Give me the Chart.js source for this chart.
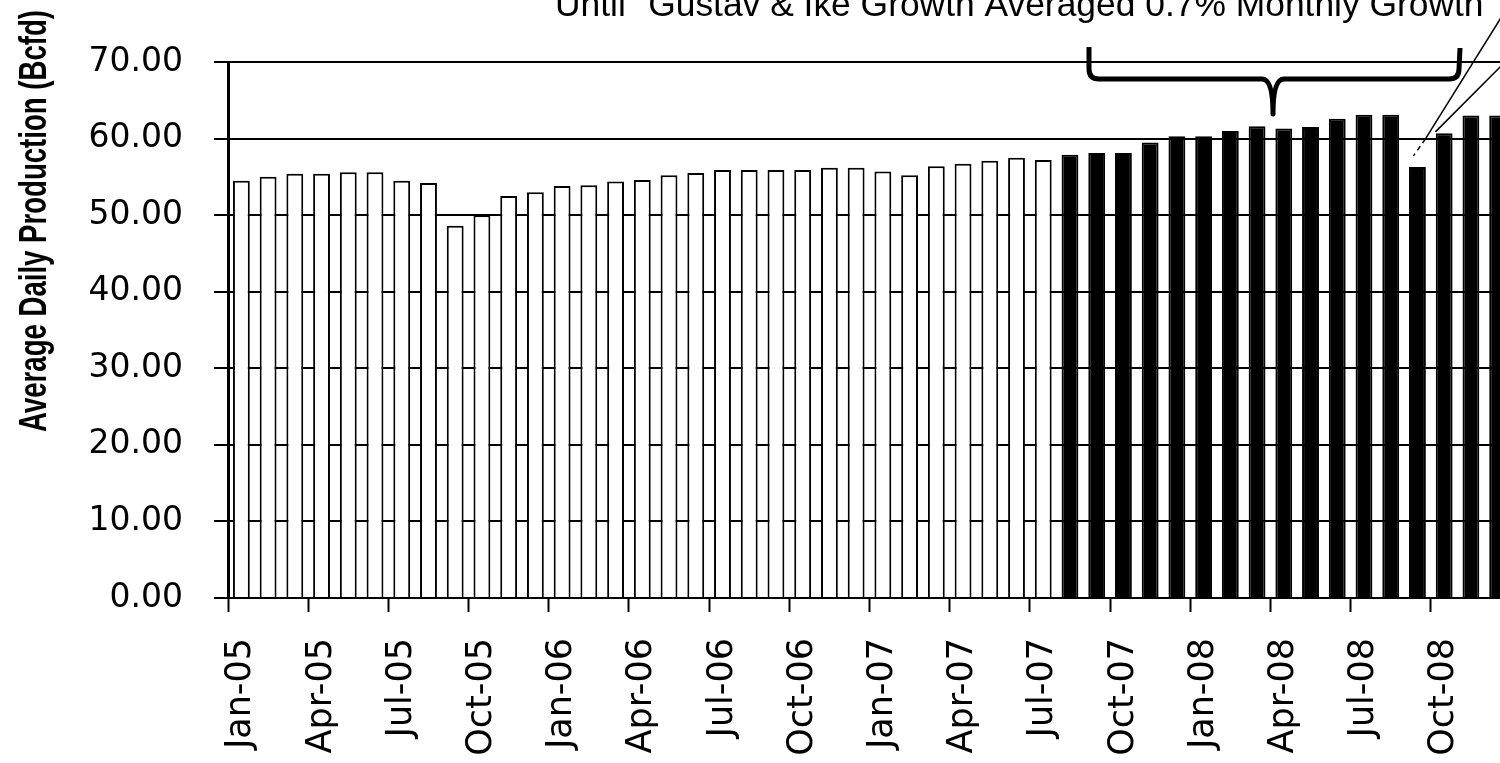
<!DOCTYPE html>
<html>
<head>
<meta charset="utf-8">
<title>Average Daily Production</title>
<script src="https://cdn.jsdelivr.net/npm/chart.js@4.4.1/dist/chart.umd.min.js"></script>
<style>
  html, body { margin: 0; padding: 0; background: #fff; overflow: hidden; }
  #wrap { width: 1530px; height: 763px; }
</style>
</head>
<body>
<div id="wrap"><canvas id="chart" width="1530" height="763"></canvas></div>
<script>
// Monthly categories, Jan 2005 – Dec 2008
const months = [
  'Jan-05','Feb-05','Mar-05','Apr-05','May-05','Jun-05','Jul-05','Aug-05','Sep-05','Oct-05','Nov-05','Dec-05',
  'Jan-06','Feb-06','Mar-06','Apr-06','May-06','Jun-06','Jul-06','Aug-06','Sep-06','Oct-06','Nov-06','Dec-06',
  'Jan-07','Feb-07','Mar-07','Apr-07','May-07','Jun-07','Jul-07','Aug-07','Sep-07','Oct-07','Nov-07','Dec-07',
  'Jan-08','Feb-08','Mar-08','Apr-08','May-08','Jun-08','Jul-08','Aug-08','Sep-08','Oct-08','Nov-08','Dec-08'
];

// Average daily production, Bcfd
const production = [
  54.5, 55.0, 55.4, 55.4, 55.6, 55.6, 54.5, 54.2, 48.6, 50.0, 52.5, 53.0,
  53.8, 53.9, 54.4, 54.6, 55.2, 55.5, 55.9, 55.9, 55.9, 55.9, 56.2, 56.2,
  55.7, 55.2, 56.4, 56.7, 57.1, 57.5, 57.2, 57.9, 58.1, 58.1, 59.5, 60.3,
  60.3, 61.0, 61.6, 61.3, 61.5, 62.6, 63.1, 63.1, 56.3, 60.7, 63.0, 63.0
];

// Months from this one onward are shown as solid bars
const solidFrom = 'Aug-07';
// Month hit by Gustav & Ike
const stormMonth = 'Sep-08';

const yAxisTitle = 'Average Daily Production (Bcfd)';
const noteText = 'Until "Gustav & Ike Growth Averaged 0.7% Monthly Growth';

const solidIndex = months.indexOf(solidFrom);
const stormIndex = months.indexOf(stormMonth);

// Axis title, note, brace and callout lines
const decor = {
  id: 'decor',
  afterDraw(chart) {
    const ctx = chart.ctx;
    const xs = chart.scales.x, ys = chart.scales.y;

    // rotated y-axis title
    ctx.save();
    ctx.fillStyle = '#000';
    ctx.font = 'bold 39px "Liberation Sans", Arial, sans-serif';
    const w = ctx.measureText(yAxisTitle).width;
    ctx.translate(35, 221);
    ctx.rotate(-Math.PI / 2);
    ctx.scale(422 / w, 1);
    ctx.textAlign = 'center';
    ctx.textBaseline = 'middle';
    ctx.fillText(yAxisTitle, 0, 0);
    ctx.restore();

    // note along the top edge
    ctx.save();
    ctx.fillStyle = '#000';
    ctx.font = '35.4px "Liberation Sans", Arial, sans-serif';
    ctx.textBaseline = 'alphabetic';
    ctx.fillText(noteText, 555, 16);
    ctx.restore();

    // brace over the growth period
    ctx.save();
    ctx.strokeStyle = '#000';
    ctx.lineWidth = 5;
    ctx.lineJoin = 'round';
    ctx.lineCap = 'butt';
    ctx.beginPath();
    ctx.moveTo(1089, 47);
    ctx.lineTo(1089, 69);
    ctx.quadraticCurveTo(1089, 79, 1099, 79);
    ctx.lineTo(1262, 79);
    ctx.quadraticCurveTo(1273, 79, 1273, 114);
    ctx.quadraticCurveTo(1273, 79, 1284, 79);
    ctx.lineTo(1449, 79);
    ctx.quadraticCurveTo(1459, 79, 1459, 69);
    ctx.lineTo(1460, 48);
    ctx.stroke();
    ctx.restore();

    // callout lines toward the storm month bar
    const tipX = xs.getPixelForValue(stormIndex) - 4;
    const tipY = ys.getPixelForValue(production[stormIndex]) - 11;
    ctx.save();
    ctx.strokeStyle = '#000';
    ctx.lineWidth = 1.5;
    ctx.beginPath();
    ctx.moveTo(1512, 0);
    ctx.lineTo(tipX + 12, tipY - 17);
    ctx.stroke();
    ctx.setLineDash([5, 4]);
    ctx.beginPath();
    ctx.moveTo(tipX + 12, tipY - 17);
    ctx.lineTo(tipX, tipY);
    ctx.stroke();
    ctx.setLineDash([]);
    ctx.beginPath();
    ctx.moveTo(1530, 37);
    ctx.lineTo(tipX + 22, tipY - 24);
    ctx.stroke();
    ctx.restore();
  }
};

new Chart(document.getElementById('chart'), {
  type: 'bar',
  data: {
    labels: months,
    datasets: [{
      data: production,
      backgroundColor: months.map((m, i) => (i >= solidIndex ? '#000' : '#fff')),
      borderColor: '#000',
      borderWidth: 2,
      barPercentage: 0.63,
      categoryPercentage: 1
    }]
  },
  options: {
    responsive: false,
    animation: false,
    devicePixelRatio: 1,
    layout: { padding: { top: 62, right: 19, left: 0, bottom: 0 } },
    plugins: { legend: { display: false }, tooltip: { enabled: false } },
    scales: {
      x: {
        offset: true,
        grid: {
          offset: true,
          drawOnChartArea: false,
          drawTicks: true,
          tickLength: 14,
          tickWidth: 2,
          tickColor: c => (c.index % 3 === 0 ? '#000' : 'rgba(0,0,0,0)')
        },
        border: { display: true, color: '#000', width: 2 },
        ticks: {
          autoSkip: false,
          minRotation: 90,
          maxRotation: 90,
          padding: 26,
          color: '#000',
          font: { family: '"DejaVu Sans", sans-serif', size: 35 },
          callback: (v, i) => (i % 3 === 0 ? months[i] : '')
        },
        afterFit: s => { s.height = 165; s.paddingLeft = 0; s.paddingRight = 0; }
      },
      y: {
        min: 0,
        max: 70,
        ticks: {
          stepSize: 10,
          padding: 31,
          color: '#000',
          font: { family: '"DejaVu Sans", sans-serif', size: 33 },
          callback: v => Number(v).toFixed(2)
        },
        grid: { color: '#000', lineWidth: 2, drawTicks: true, tickLength: 14 },
        border: { display: true, color: '#000', width: 3 },
        afterFit: s => { s.width = 228; s.paddingTop = 0; s.paddingBottom = 0; }
      }
    }
  },
  plugins: [decor]
});
</script>
</body>
</html>
